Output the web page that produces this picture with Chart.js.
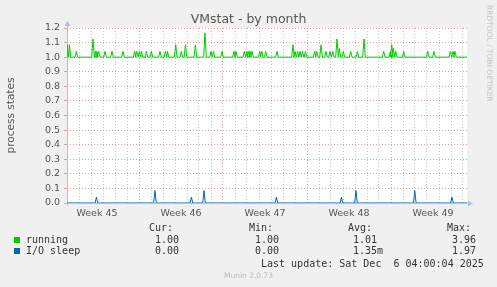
<!DOCTYPE html>
<html><head><meta charset="utf-8">
<script src="https://cdn.jsdelivr.net/npm/chart.js@4/dist/chart.umd.min.js"></script>
<style>
html,body{margin:0;padding:0;background:#f0f0f0;}
#wrap{position:relative;width:497px;height:287px;overflow:hidden;}
canvas{position:absolute;left:0;top:0;}
.t{position:absolute;white-space:pre;}
.mono{font-family:"DejaVu Sans Mono",monospace;font-size:10px;line-height:12px;color:#333;}
.sq{position:absolute;width:6px;height:6px;}
</style></head><body>
<div id="wrap">
<canvas id="c" width="497" height="287"></canvas>
<div class="t" style="left:0;width:497px;text-align:center;top:11px;font:12.5px 'DejaVu Sans';line-height:15px;color:#555;">VMstat - by month</div>
<div class="t" style="left:481px;top:5px;font:7.5px 'DejaVu Sans';color:#c4c4c4;transform-origin:0 0;transform:translate(13px,0) rotate(90deg);">RRDTOOL / TOBI OETIKER</div>
<div class="t mono" style="left:149px;top:222px;">Cur:</div>
<div class="t mono" style="left:249px;top:222px;">Min:</div>
<div class="t mono" style="left:348px;top:222px;">Avg:</div>
<div class="t mono" style="left:447px;top:222px;">Max:</div>
<div class="sq" style="left:14px;top:237px;background:#00cc00;"></div>
<div class="t mono" style="left:26px;top:234px;">running</div>
<div class="t mono" style="left:155px;top:234px;">1.00</div>
<div class="t mono" style="left:255px;top:234px;">1.00</div>
<div class="t mono" style="left:353px;top:234px;">1.01</div>
<div class="t mono" style="left:452px;top:234px;">3.96</div>
<div class="sq" style="left:14px;top:248px;background:#0066b3;"></div>
<div class="t mono" style="left:26px;top:245px;">I/O sleep</div>
<div class="t mono" style="left:155px;top:245px;">0.00</div>
<div class="t mono" style="left:255px;top:245px;">0.00</div>
<div class="t mono" style="left:353px;top:245px;">1.35m</div>
<div class="t mono" style="left:452px;top:245px;">1.97</div>
<div class="t mono" style="left:261px;top:258px;">Last update: Sat Dec  6 04:00:04 2025</div>
<div class="t" style="left:0;width:497px;text-align:center;top:271px;font:7.5px 'DejaVu Sans';line-height:10px;color:#bbb;">Munin 2.0.73</div>
</div>
<script>
// ---- data (x in days from left edge of the month view) ----
const runBase = 1.0;
const runSpikeDay = [0.03,0.20,0.78,2.17,2.37,2.48,2.64,3.17,3.75,4.67,5.64,5.81,6.03,6.20,6.62,7.03,7.75,8.20,8.37,9.06,9.53,9.87,10.70,11.50,12.00,12.20,12.92,13.92,14.08,14.78,14.98,15.12,15.25,15.42,16.06,16.23,16.56,17.50,18.83,19.00,19.22,19.42,19.62,19.87,20.64,20.81,21.17,21.58,21.92,22.14,22.50,22.70,23.03,23.64,24.20,24.75,26.39,26.95,27.06,27.20,27.39,28.06,30.06,30.58,31.95,32.17,32.33];
const runSpikeVal = [1.085,1.085,1.04,1.125,1.04,1.04,1.04,1.04,1.04,1.04,1.04,1.04,1.04,1.04,1.04,1.04,1.04,1.04,1.04,1.085,1.04,1.085,1.085,1.167,1.04,1.04,1.04,1.04,1.04,1.04,1.04,1.04,1.04,1.04,1.04,1.04,1.04,1.04,1.085,1.04,1.04,1.04,1.04,1.04,1.04,1.04,1.085,1.04,1.04,1.04,1.125,1.06,1.04,1.04,1.04,1.125,1.04,1.04,1.085,1.06,1.04,1.04,1.04,1.04,1.04,1.04,1.04];
const ioBase = 0.0;
const ioSpikeDay = [2.45,7.33,10.37,11.42,17.45,22.87,24.08,28.98,32.08];
const ioSpikeVal = [0.04,0.086,0.04,0.085,0.04,0.04,0.085,0.085,0.04];
const weekLabels = ['Week 45','Week 46','Week 47','Week 48','Week 49'];
const weekCenters = [2.5,9.5,16.5,23.5,30.5];
const weekStarts = [6,13,20,27];
const yTicks = [0,0.1,0.2,0.3,0.4,0.5,0.6,0.7,0.8,0.9,1.0,1.1,1.2];
const xMax = 400/12;

function series(base, days, vals, end){
  const pts=[{x:0,y:base}];
  const hw=0.11;
  days.forEach((d,i)=>{ pts.push({x:Math.max(0,d-hw),y:base}); pts.push({x:d,y:vals[i]}); pts.push({x:d+hw,y:base}); });
  pts.push({x:end,y:base});
  return pts;
}

const RED='rgba(222,120,120,0.7)', GRAY='rgba(175,175,175,0.7)', AXIS='#b4bce8';

const bgPlugin={id:'bg',
  beforeDraw(ch){const c=ch.ctx,a=ch.chartArea;c.save();c.fillStyle='#f0f0f0';c.fillRect(0,0,ch.width,ch.height);c.fillStyle='#fff';c.fillRect(a.left,a.top,a.right-a.left,a.bottom-a.top);c.restore();},
  beforeDatasetsDraw(ch){const c=ch.ctx,a=ch.chartArea;c.save();c.strokeStyle=AXIS;c.fillStyle=AXIS;c.lineWidth=1;
    const L=Math.round(a.left)+0.5,B=Math.round(a.bottom)+0.5;
    c.beginPath();c.moveTo(L,B+2);c.lineTo(L,a.top-5);c.moveTo(L-3,B);c.lineTo(a.right+3,B);c.stroke();
    c.beginPath();c.moveTo(L-3,a.top-2);c.lineTo(L+3,a.top-2);c.lineTo(L,a.top-7);c.closePath();c.fill();
    c.beginPath();c.moveTo(a.right+1,B-3);c.lineTo(a.right+1,B+3);c.lineTo(a.right+6,B);c.closePath();c.fill();
    c.restore();}
};

new Chart(document.getElementById('c'),{
  type:'line',
  data:{datasets:[
    {label:'I/O sleep',data:series(ioBase,ioSpikeDay,ioSpikeVal,xMax),borderColor:'#0066b3',borderWidth:1,pointRadius:0,order:0},
    {label:'running',data:series(runBase,runSpikeDay,runSpikeVal,xMax),borderColor:'#00cc00',borderWidth:1,pointRadius:0,order:1}
  ]},
  options:{
    responsive:false,animation:false,
    layout:{padding:{left:0,top:28,right:30,bottom:0}},
    plugins:{legend:{display:false},title:{display:false},tooltip:{enabled:false}},
    elements:{line:{tension:0}},
    scales:{
      x:{type:'linear',min:0,max:xMax,
        afterBuildTicks(s){const t=[];for(let d=0;d<=33;d++)t.push({value:d});weekCenters.forEach(v=>t.push({value:v}));t.sort((a,b)=>a.value-b.value);s.ticks=t;},
        afterFit(s){s.height=84;},
        ticks:{autoSkip:false,maxRotation:0,minRotation:0,padding:5,color:'#555',font:{family:'DejaVu Sans',size:9.5},
          callback(v){const i=weekCenters.indexOf(v);return i>=0?weekLabels[i]:'';}},
        grid:{drawTicks:false,lineWidth:1,color(ctx){const v=ctx.tick&&ctx.tick.value;if(weekCenters.includes(v))return 'rgba(0,0,0,0)';if(weekStarts.includes(v))return RED;return GRAY;}},
        border:{display:false,dash:[1,2]}
      },
      y:{min:0,max:1.2,
        afterBuildTicks(s){s.ticks=yTicks.map(v=>({value:v}));},
        afterFit(s){s.width=67;},
        ticks:{padding:4,color:'#555',font:{family:'DejaVu Sans',size:9.5},callback(v){return v.toFixed(1);}},
        grid:{drawTicks:true,tickLength:3,color:RED,lineWidth:1},
        border:{display:false,dash:[1,2]},
        title:{display:true,text:'process states',color:'#555',font:{family:'DejaVu Sans',size:10.5},padding:{top:5,bottom:0}}
      }
    }
  },
  plugins:[bgPlugin]
});
</script>
</body></html>
